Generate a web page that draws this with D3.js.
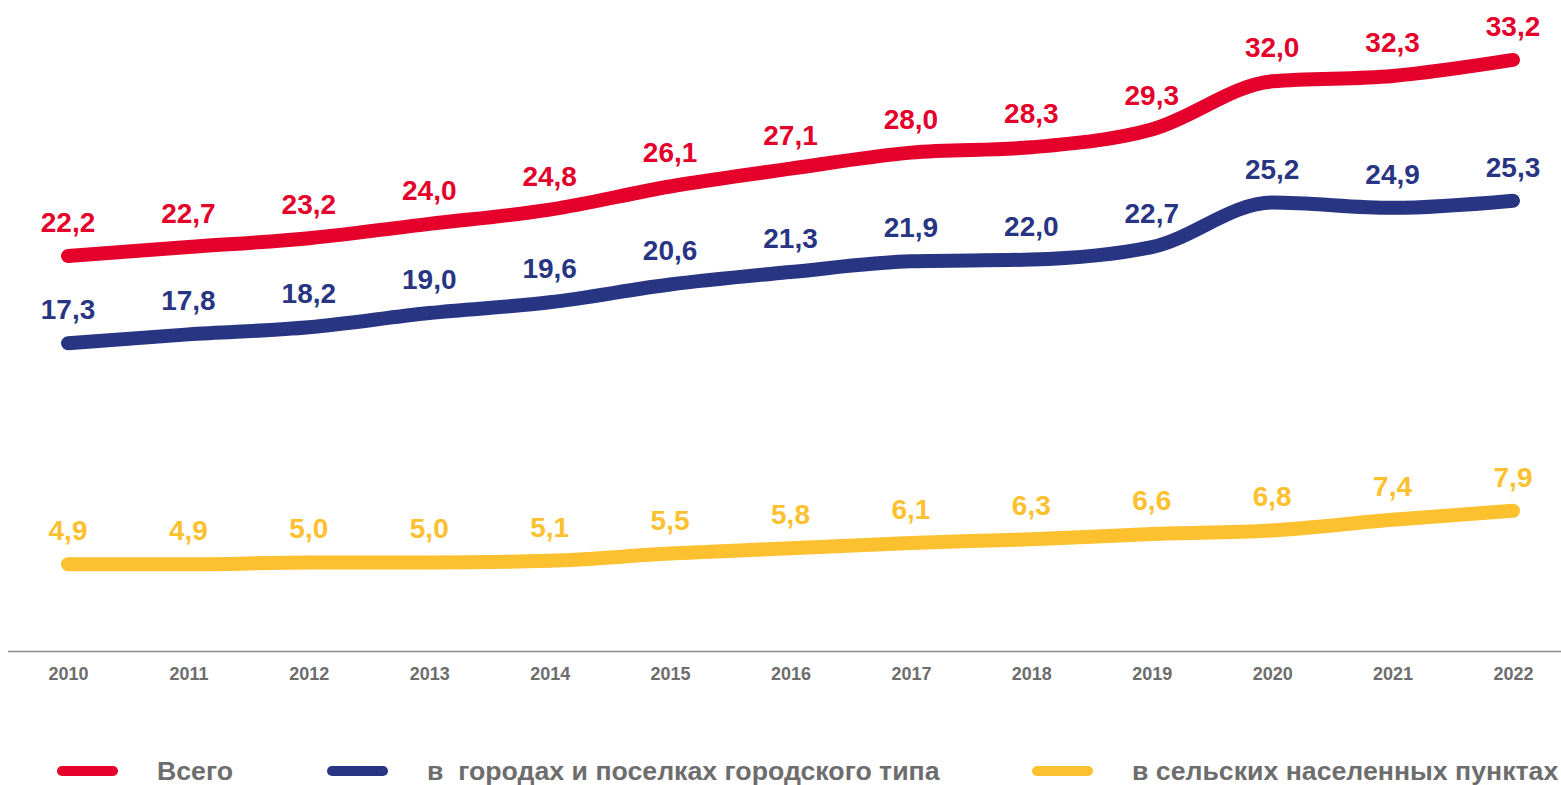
<!doctype html>
<html>
  <head>
    <meta charset="utf-8">
    <script src="https://cdn.jsdelivr.net/npm/d3@7/dist/d3.min.js"></script>
    <style>
      body {
          margin: 0;
          background: #fff;
          font-family: "Liberation Sans", Arial, sans-serif;
      }
      .value {
          font-weight: bold;
          font-size: 28px;
          text-anchor: middle;
      }
      .x.axis text {
          font-weight: bold;
          font-size: 18px;
          fill: #6d6d6d;
      }
      .legend text {
          font-weight: bold;
          font-size: 26.7px;
          fill: #6d6d6d;
          white-space: pre;
      }
    </style>
  </head>
  <body>
    <script>
        var years = ["2010","2011","2012","2013","2014","2015","2016","2017","2018","2019","2020","2021","2022"];
        var total = [22.2, 22.7, 23.2, 24.0, 24.8, 26.1, 27.1, 28.0, 28.3, 29.3, 32.0, 32.3, 33.2];
        var urban = [17.3, 17.8, 18.2, 19.0, 19.6, 20.6, 21.3, 21.9, 22.0, 22.7, 25.2, 24.9, 25.3];
        var rural = [4.9, 4.9, 5.0, 5.0, 5.1, 5.5, 5.8, 6.1, 6.3, 6.6, 6.8, 7.4, 7.9];
        var names = ["Всего", "в  городах и поселках городского типа", "в сельских населенных пунктах"];
        var colors = ["#e4002b", "#283583", "#fdc02f"];

        var series = [total, urban, rural].map(function(vals, i) {
            return { name: names[i], color: colors[i], values: vals.map(function(v, j) { return { year: years[j], value: v }; }) };
        });

        var width = 1561, height = 785;

        var svg = d3.select("body").append("svg")
            .attr("width", width)
            .attr("height", height);

        var x = d3.scalePoint()
            .domain(years)
            .range([68, 1513]);

        var y = d3.scaleLinear()
            .domain([0, 34])
            .range([651.6, 45.7]);

        // x axis: plain baseline + bold year labels
        var xAxis = svg.append("g")
            .attr("class", "x axis")
            .attr("transform", "translate(0," + y(0) + ")")
            .call(d3.axisBottom(x).tickSize(0).tickPadding(16));

        xAxis.select(".domain").remove();
        xAxis.insert("line", ":first-child")
            .attr("x1", 8)
            .attr("x2", width)
            .attr("stroke", "#8a8a8a")
            .attr("stroke-width", 1.5);
        xAxis.selectAll(".tick text")
            .attr("font-family", null)
            .attr("font-size", null);

        var line = d3.line()
            .x(function(d) { return x(d.year); })
            .y(function(d) { return y(d.value); })
            .curve(d3.curveMonotoneX);

        var fmt = function(v) { return d3.format(".1f")(v).replace(".", ","); };

        var g = svg.selectAll(".series")
            .data(series)
            .enter().append("g")
            .attr("class", "series");

        g.append("path")
            .attr("d", function(d) { return line(d.values); })
            .attr("fill", "none")
            .attr("stroke", function(d) { return d.color; })
            .attr("stroke-width", 14)
            .attr("stroke-linecap", "round")
            .attr("stroke-linejoin", "round");

        g.each(function(s) {
            d3.select(this).selectAll(".value")
                .data(s.values)
                .enter().append("text")
                .attr("class", "value")
                .attr("x", function(d) { return x(d.year); })
                .attr("y", function(d) { return y(d.value) - 24; })
                .attr("fill", s.color)
                .text(function(d) { return fmt(d.value); });
        });

        // legend
        var legendX = [57, 327, 1032];
        var legend = svg.selectAll(".legend")
            .data(series)
            .enter().append("g")
            .attr("class", "legend")
            .attr("transform", function(d, i) { return "translate(" + legendX[i] + ",771)"; });

        legend.append("line")
            .attr("x1", 5)
            .attr("x2", 56)
            .attr("stroke", function(d) { return d.color; })
            .attr("stroke-width", 10)
            .attr("stroke-linecap", "round");

        legend.append("text")
            .attr("x", 100)
            .attr("y", 9)
            .text(function(d) { return d.name; });
    </script>
  </body>
</html>
